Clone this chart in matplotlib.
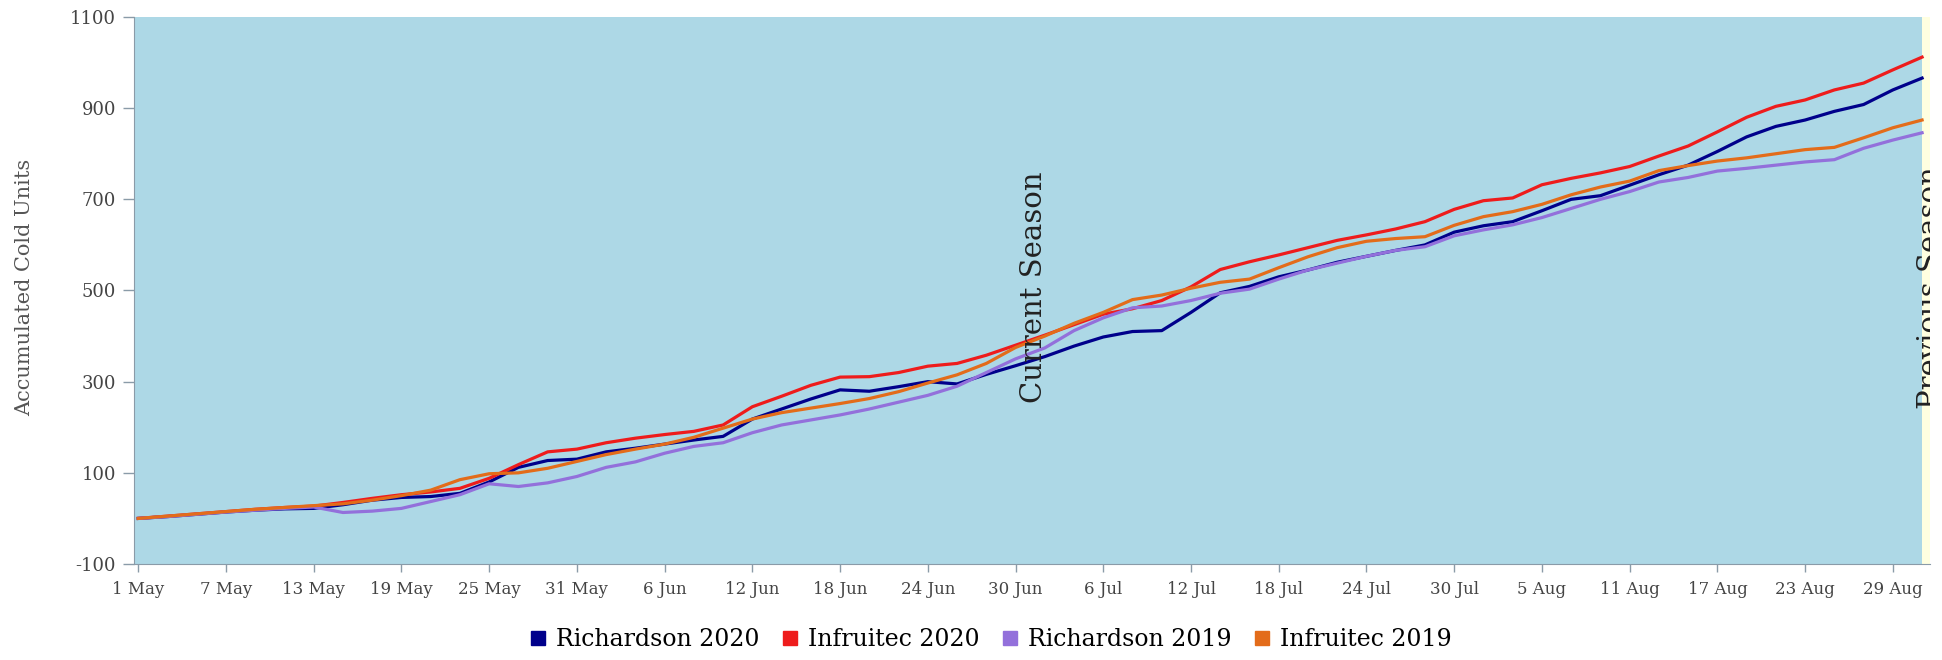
import matplotlib
matplotlib.use("Agg")
import matplotlib.pyplot as plt
from matplotlib.lines import Line2D
import pandas as pd

# readings every 2 days, 1 May .. 31 Aug
dates = pd.date_range("2020-05-01", "2020-08-31", freq="2D")

richardson_2020 = [0, 4, 9, 14, 18, 21, 22, 30, 40, 46, 48, 55, 80, 112, 127, 130,
                   146, 154, 163, 172, 180, 218, 240, 262, 282, 279, 289, 300, 295, 316,
                   335, 355, 378, 398, 410, 412, 452, 495, 509, 530, 545, 562, 575, 588,
                   600, 628, 642, 651, 675, 700, 708, 731, 754, 775, 805, 837, 860, 874,
                   893, 908, 940, 966]
infruitec_2020 = [0, 5, 10, 15, 20, 24, 27, 35, 44, 52, 58, 66, 88, 118, 146, 152,
                  166, 176, 184, 191, 205, 245, 268, 292, 310, 311, 320, 334, 340, 358,
                  380, 402, 425, 448, 460, 478, 508, 546, 563, 578, 594, 610, 622, 635,
                  651, 678, 697, 703, 732, 746, 758, 772, 795, 817, 848, 880, 904, 918,
                  940, 955, 984, 1012]
richardson_2019 = [0, 4, 9, 14, 18, 22, 25, 13, 16, 22, 37, 52, 76, 70, 78, 92,
                   112, 124, 143, 158, 166, 188, 205, 216, 227, 240, 255, 270, 290, 320,
                   350, 374, 412, 440, 462, 466, 478, 494, 503, 525, 545, 560, 575, 588,
                   596, 620, 633, 644, 660, 680, 700, 717, 738, 748, 762, 768, 775, 782,
                   787, 812, 830, 846]
infruitec_2019 = [0, 5, 10, 15, 20, 24, 28, 32, 40, 50, 62, 85, 98, 100, 110, 125,
                  140, 152, 163, 178, 198, 218, 232, 242, 252, 263, 278, 297, 315, 340,
                  375, 400, 428, 452, 480, 490, 505, 518, 525, 550, 574, 594, 608, 614,
                  618, 643, 662, 673, 689, 710, 727, 740, 763, 774, 784, 791, 800, 809,
                  814, 835, 857, 874]

series_names = ["Richardson 2020", "Infruitec 2020", "Richardson 2019", "Infruitec 2019"]
series_colors = ["#00008B", "#EE1C1C", "#9370DB", "#E36C1A"]
tick_dates = pd.date_range("2020-05-01", "2020-08-29", freq="6D")
tick_labels = [f"{d.day} {d.strftime('%b')}" for d in tick_dates]
y_ticks = [-100, 100, 300, 500, 700, 900, 1100]

fig = plt.figure(figsize=(19.42, 6.6), dpi=100)
ax = fig.add_axes([134 / 1942, 1 - 564 / 660, (1930 - 134) / 1942, (564 - 17) / 660])
ax.set_facecolor("#ADD8E6")

all_series = [richardson_2020, infruitec_2020, richardson_2019, infruitec_2019]
for vals, name, col in zip(all_series, series_names, series_colors):
    ax.plot(dates, vals, color=col, lw=2.3, label=name)

x0 = pd.Timestamp("2020-05-01") - pd.Timedelta(hours=7)
x1 = pd.Timestamp("2020-08-31") + pd.Timedelta(hours=13)
ax.axvspan(pd.Timestamp("2020-08-31"), x1, color="#FFFFE0", lw=0)
ax.set_xlim(x0, x1)
ax.set_ylim(-100, 1100)

# plot line labels
ax.text(pd.Timestamp("2020-07-01 06:00"), 507, "Current Season", rotation=90,
        ha="center", va="center", fontsize=21, family="DejaVu Serif", color="#222222")
ax.text(x1 + pd.Timedelta(hours=2), 507, "Previous Season", rotation=90,
        ha="center", va="center", fontsize=21, family="DejaVu Serif", color="#222222",
        clip_on=True)

ax.set_xticks(tick_dates)
ax.set_xticklabels(tick_labels, family="DejaVu Serif", fontsize=12, color="#444444")
ax.set_yticks(y_ticks)
ax.set_yticklabels([str(v) for v in y_ticks], family="DejaVu Serif", fontsize=13,
                   color="#444444")
ax.tick_params(axis="y", length=8, width=1, color="#8a9ba8", pad=5)
ax.tick_params(axis="x", length=6, width=1, color="#8a9ba8", pad=6)
for s in ["top", "right"]:
    ax.spines[s].set_visible(False)
for s in ["left", "bottom"]:
    ax.spines[s].set_color("#8a9ba8")

fig.text(25 / 1942, 1 - 287 / 660, "Accumulated Cold Units", rotation=90, ha="center",
         va="center", fontsize=15, family="DejaVu Serif", color="#555555")

handles = [Line2D([], [], ls="none", marker="s", markersize=10, color=c) for c in series_colors]
fig.legend(handles, series_names, loc="center", bbox_to_anchor=(990 / 1942, 1 - 640 / 660),
           ncol=4, frameon=False, prop={"family": "DejaVu Serif", "size": 17},
           handletextpad=0.35, columnspacing=0.9, handlelength=0.8)

fig.savefig("out.png", dpi=100)
